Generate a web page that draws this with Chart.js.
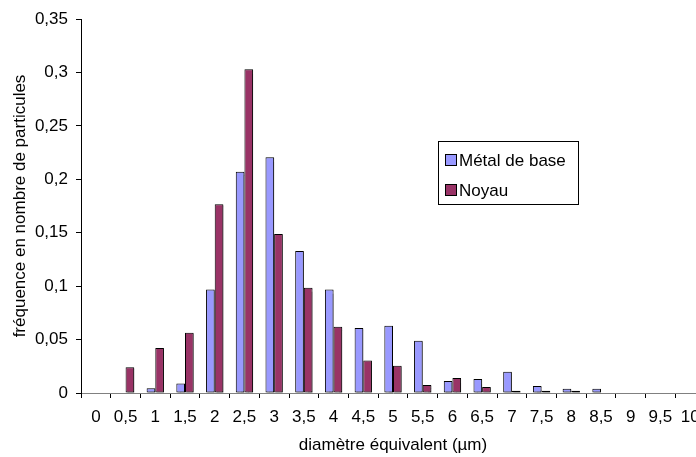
<!DOCTYPE html>
<html>
<head>
<meta charset="utf-8">
<script src="https://cdn.jsdelivr.net/npm/chart.js@4"></script>
<style>
  html, body { margin: 0; padding: 0; background: #fff; overflow: hidden; }
  #cadre { width: 720px; height: 457px; }
</style>
</head>
<body>
<div id="cadre"><canvas id="distribution"></canvas></div>
<script>
const categories = ["0", "0,5", "1", "1,5", "2", "2,5", "3", "3,5", "4", "4,5", "5",
  "5,5", "6", "6,5", "7", "7,5", "8", "8,5", "9", "9,5", "10"];

const metal_de_base = [0, 0, 0.0044, 0.009, 0.0968, 0.207, 0.2206, 0.1329, 0.0968, 0.0608, 0.063,
  0.049, 0.0112, 0.0131, 0.02, 0.0066, 0.004, 0.004, 0, 0, 0];

const noyau = [0, 0.024, 0.042, 0.0565, 0.1766, 0.303, 0.1488, 0.0985, 0.0621, 0.0303, 0.0255,
  0.0075, 0.014, 0.0056, 0.002, 0.002, 0.002, 0, 0, 0, 0];

const etiquettes_y = ["0", "0,05", "0,1", "0,15", "0,2", "0,25", "0,3", "0,35"];

const police = { family: "'Liberation Sans', Arial, sans-serif", size: 17 };

// ombre grise legere sous les barres (style Excel)
const ombre = {
  id: "ombre",
  beforeDatasetsDraw(chart) {
    const ctx = chart.ctx;
    ctx.save();
    ctx.shadowColor = "rgba(0,0,0,0.35)";
    ctx.shadowOffsetX = 1.5;
    ctx.shadowOffsetY = 1;
    ctx.shadowBlur = 1;
  },
  afterDatasetsDraw(chart) {
    chart.ctx.restore();
  },
};

// legende dessinee dans la zone du graphique (cadre noir, comme Excel)
const legende = {
  id: "legende",
  afterDraw(chart) {
    const ctx = chart.ctx;
    ctx.save();
    ctx.fillStyle = "#fff";
    ctx.fillRect(438.5, 141.5, 140, 63);
    ctx.strokeStyle = "#000";
    ctx.lineWidth = 1;
    ctx.strokeRect(438.5, 141.5, 140, 63);
    ctx.font = "17px 'Liberation Sans', Arial, sans-serif";
    ctx.textBaseline = "middle";
    chart.data.datasets.forEach((ds, i) => {
      const y = 160 + i * 30;
      ctx.fillStyle = ds.backgroundColor;
      ctx.fillRect(445.5, y - 5.5, 11, 11);
      ctx.strokeRect(445.5, y - 5.5, 11, 11);
      ctx.fillStyle = "#000";
      ctx.fillText(ds.label, 459, y + 1);
    });
    ctx.restore();
  },
};

const graphique = document.getElementById("distribution");

new Chart(graphique, {
  type: "bar",
  data: {
    labels: categories,
    datasets: [
      {
        label: "Métal de base",
        data: metal_de_base,
        backgroundColor: "#9999FF",
        borderColor: "#000",
        borderWidth: 1,
        borderSkipped: false,
      },
      {
        label: "Noyau",
        data: noyau,
        backgroundColor: "#993366",
        borderColor: "#000",
        borderWidth: 1,
        borderSkipped: false,
      },
    ],
  },
  options: {
    responsive: true,
    maintainAspectRatio: false,
    animation: false,
    categoryPercentage: 0.583,
    barPercentage: 1,
    layout: { padding: { left: 0, top: 19, right: 15, bottom: 0 } },
    plugins: {
      legend: { display: false },
      tooltip: { enabled: false },
    },
    scales: {
      x: {
        grid: { drawOnChartArea: false, drawTicks: true, tickLength: 5, offset: true, tickColor: "#000" },
        border: { display: true, color: "#808080", width: 1 },
        ticks: { color: "#000", font: police, padding: 9, maxRotation: 0, autoSkip: false },
        title: {
          display: true,
          text: "diamètre équivalent (µm)",
          color: "#000",
          font: police,
          padding: { top: 0, bottom: 1 },
        },
        afterFit: (s) => { s.height = 64; },
      },
      y: {
        min: 0,
        max: 0.35,
        grid: { drawOnChartArea: false, drawTicks: true, tickLength: 5, tickColor: "#000" },
        border: { display: true, color: "#000", width: 1 },
        ticks: {
          stepSize: 0.05,
          color: "#000",
          font: police,
          padding: 8,
          callback: (v, i) => etiquettes_y[i],
        },
        title: {
          display: true,
          text: "fréquence en nombre de particules",
          color: "#000",
          font: police,
          padding: { top: 10, bottom: 0 },
        },
        afterFit: (s) => { s.width = 81; },
      },
    },
  },
  plugins: [ombre, legende],
});
</script>
</body>
</html>
